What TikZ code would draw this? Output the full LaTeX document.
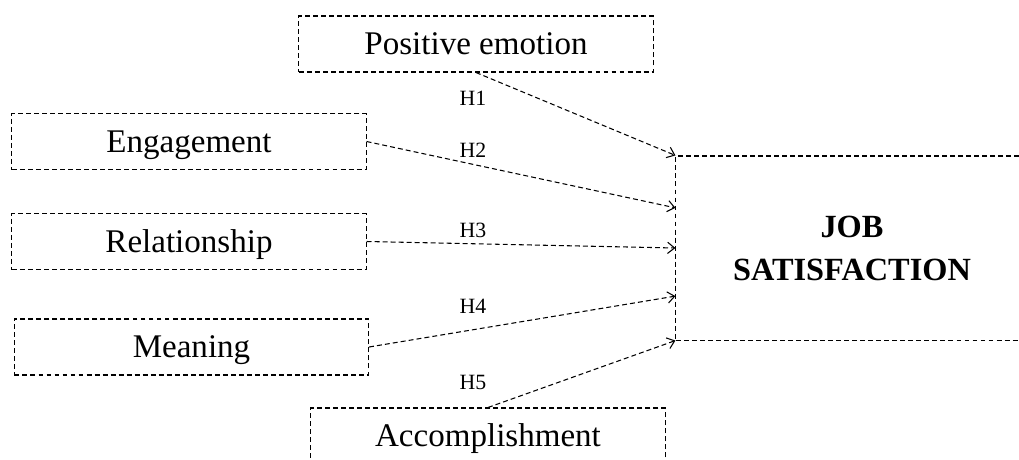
\documentclass[tikz,border=0pt]{standalone}
\usepackage{fontspec}
\setmainfont{Liberation Serif}
\usepackage{tikz}
\usetikzlibrary{shapes,arrows.meta,calc}

\begin{document}
\begin{tikzpicture}[x=0.025cm, y=-0.025cm, line width=0.75pt,
  factor/.style={draw, dash pattern=on 3.5pt off 2.2pt, minimum width=8.85cm,
    minimum height=1.4cm, inner sep=0pt, text height=19.6pt, text depth=4pt,
    font=\fontsize{23.5}{28}\selectfont},
  outcome/.style={draw, dash pattern=on 3.5pt off 2.2pt, minimum width=8.8cm,
    minimum height=4.6cm, align=center, font=\bfseries\fontsize{23}{30.6}\selectfont},
  hyp/.style={dash pattern=on 3.5pt off 2.2pt, -{Straight Barb[length=5pt,width=8pt]}},
  hlabel/.style={inner sep=0pt, font=\fontsize{15.5}{18}\selectfont}]
\clip (0,0) rectangle (1019,460);

\node[factor] (pos) at (476,44) {Positive emotion};
\node[factor] (eng) at (189,141.5) {Engagement};
\node[factor] (rel) at (189,241.5) {Relationship};
\node[factor] (mea) at (191.5,347) {Meaning};
\node[factor] (acc) at (488,436) {Accomplishment};

\node[outcome] (job) at (852,248) {JOB\\SATISFACTION};

% hypotheses
\draw[hyp] (pos.south) -- (job.north west);
\draw[hyp] (eng.east) -- ($(job.north west)!0.283!(job.south west)$);
\draw[hyp] (rel.east) -- (job.west);
\draw[hyp] (mea.east) -- ($(job.north west)!0.76!(job.south west)$);
\draw[hyp] (acc.north) -- (job.south west);

\node[hlabel] (h1) at (473,98) {H1};
\node[hlabel] (h2) at (473,150) {H2};
\node[hlabel] (h3) at (473,230) {H3};
\node[hlabel] (h4) at (473,306) {H4};
\node[hlabel] (h5) at (473,382) {H5};
\end{tikzpicture}
\end{document}
